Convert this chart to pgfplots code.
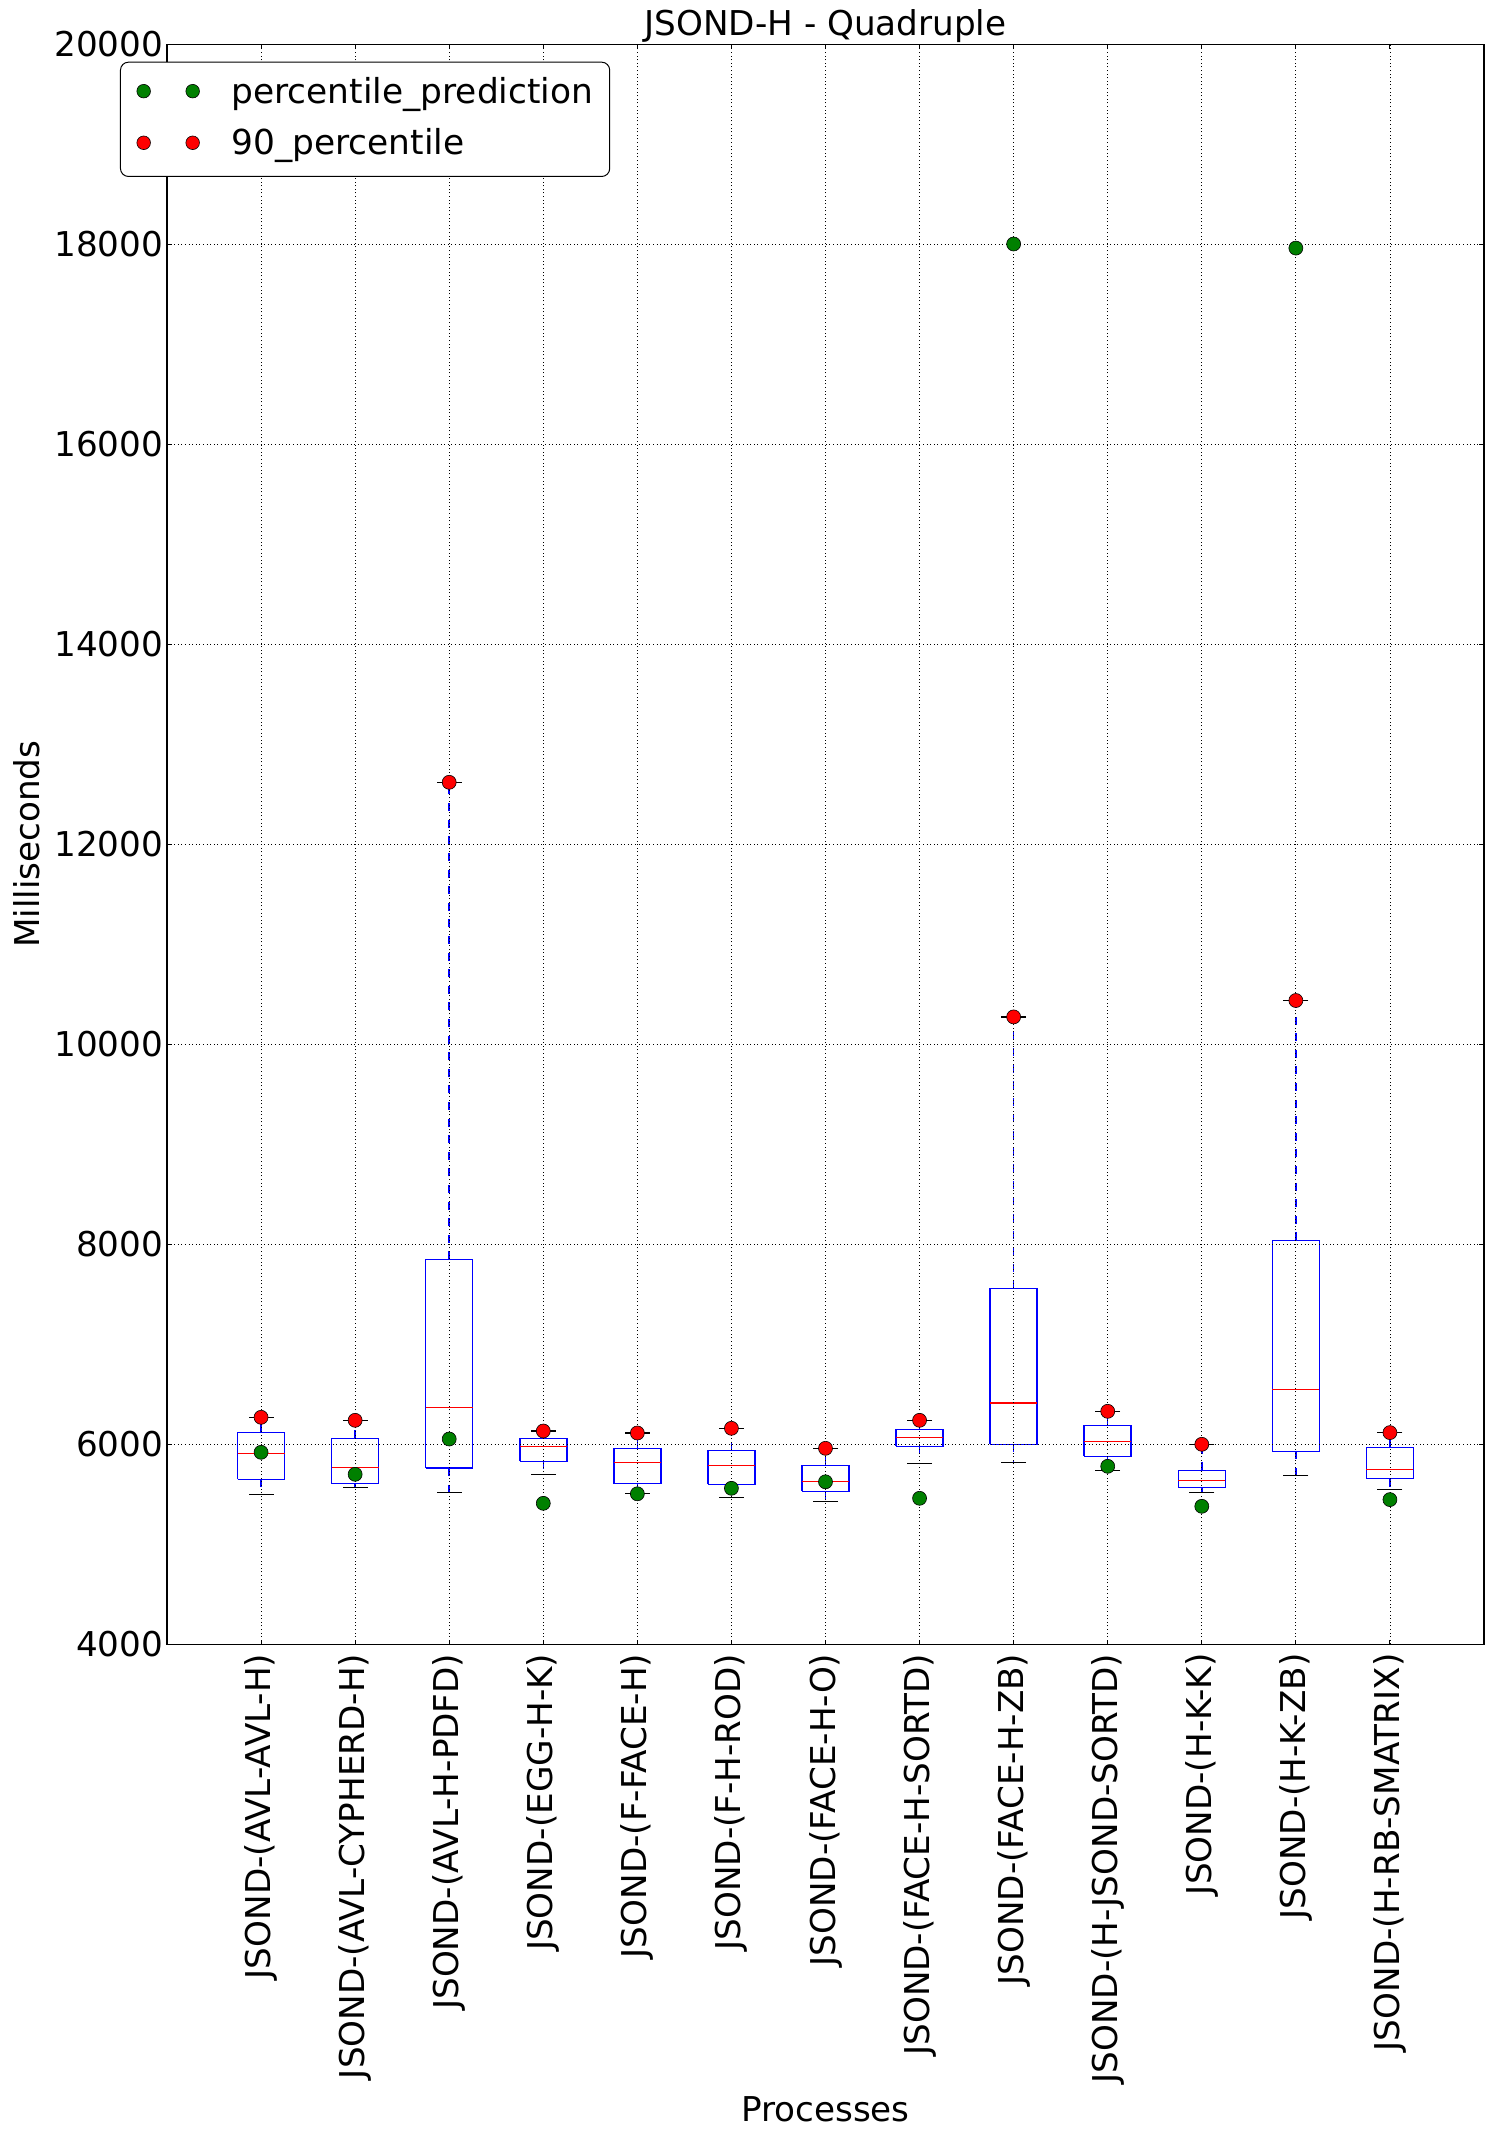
\documentclass[border=0pt]{standalone}
\usepackage{fontspec}
\setmainfont{DejaVu Sans}
\usepackage{pgfplots}
\pgfplotsset{compat=1.18}
\definecolor{mplgreen}{HTML}{008000}
\definecolor{mplblue}{HTML}{0000FF}
\definecolor{mplred}{HTML}{FF0000}
\pgfplotsset{legend image code/.code={\draw[#1,mark size=3.4pt] plot coordinates {(0pt,6pt) (24.5pt,6pt)};}}

\begin{document}
\fontsize{17.1}{20.5}\selectfont
\begin{tikzpicture}
\begin{axis}[
  scale only axis,
  width=658.5pt, height=800pt,
  xmin=0, xmax=14, ymin=4000, ymax=20000,
  xtick={1,2,3,4,5,6,7,8,9,10,11,12,13},
  xticklabels={JSOND-(AVL-AVL-H),JSOND-(AVL-CYPHERD-H),JSOND-(AVL-H-PDFD),JSOND-(EGG-H-K),JSOND-(F-FACE-H),JSOND-(F-H-ROD),JSOND-(FACE-H-O),JSOND-(FACE-H-SORTD),JSOND-(FACE-H-ZB),JSOND-(H-JSOND-SORTD),JSOND-(H-K-K),JSOND-(H-K-ZB),JSOND-(H-RB-SMATRIX)},
  ytick={4000,6000,8000,10000,12000,14000,16000,18000,20000},
  scaled y ticks=false,
  /pgf/number format/1000 sep={},
  /pgf/number format/assume math mode=true,
  tick align=inside,
  major tick length=2.3pt,
  minor tick num=0,
  tick style={black, line width=0.5pt},
  axis line style={black, line width=0.6pt},
  grid=major,
  major grid style={black, line width=0.4pt, dash pattern=on 0.5pt off 1.3pt},
  axis on top,
  unbounded coords=jump,
  xticklabel style={yshift=-4.5pt, rotate=90, anchor=east, inner sep=0pt},
  yticklabel style={inner sep=0pt, xshift=-1.7pt},
  title={JSOND-H - Quadruple},
  every axis title/.style={at={(axis description cs:0.5,1)}, anchor=base, yshift=4.15pt, inner sep=0pt},
  xlabel={Processes},
  ylabel={Milliseconds},
  every axis x label/.style={at={(axis description cs:0.5,-0.2981)}, anchor=base, inner sep=0pt},
  every axis y label/.style={at={(axis description cs:-0.0964,0.5)}, rotate=90, anchor=south, inner sep=0pt},
  legend cell align=left,
  legend style={at={(axis description cs:-0.0357,0.98913)}, anchor=north west,
    draw=black, line width=0.5pt, fill=white, rounded corners=4pt,
    font=\fontsize{17.2}{20.6}\selectfont,
    inner xsep=8.2pt, inner ysep=7pt, row sep=8.45pt, column sep=16pt,
    cells={anchor=base west},
    nodes={inner sep=0pt, anchor=base west, text height=13.5pt, text depth=3.85pt}},
]
% whiskers (quartile to whisker end)
\addplot[forget plot, mplblue, line width=0.75pt, dash pattern=on 4pt off 4.3pt] coordinates {
(1,5650) (1,5500) (1,nan) (1,6120) (1,6270) (1,nan)
(2,5606) (2,5570) (2,nan) (2,6060) (2,6240) (2,nan)
(3,5763) (3,5520) (3,nan) (3,7850) (3,12620) (3,nan)
(4,5830) (4,5700) (4,nan) (4,6060) (4,6133) (4,nan)
(5,5606) (5,5510) (5,nan) (5,5960) (5,6113) (5,nan)
(6,5600) (6,5470) (6,nan) (6,5940) (6,6160) (6,nan)
(7,5530) (7,5430) (7,nan) (7,5790) (7,5960) (7,nan)
(8,5980) (8,5810) (8,nan) (8,6150) (8,6240) (8,nan)
(9,6000) (9,5820) (9,nan) (9,7560) (9,10274) (9,nan)
(10,5880) (10,5740) (10,nan) (10,6187) (10,6330) (10,nan)
(11,5570) (11,5520) (11,nan) (11,5740) (11,6000) (11,nan)
(12,5930) (12,5690) (12,nan) (12,8040) (12,10438) (12,nan)
(13,5657) (13,5547) (13,nan) (13,5967) (13,6117)};
% boxes (lower quartile to upper quartile, width 0.5)
\addplot[forget plot, mplblue, line width=0.75pt, solid] coordinates {
(0.75,5650) (1.25,5650) (1.25,6120) (0.75,6120) (0.75,5650) (1,nan)
(1.75,5606) (2.25,5606) (2.25,6060) (1.75,6060) (1.75,5606) (2,nan)
(2.75,5763) (3.25,5763) (3.25,7850) (2.75,7850) (2.75,5763) (3,nan)
(3.75,5830) (4.25,5830) (4.25,6060) (3.75,6060) (3.75,5830) (4,nan)
(4.75,5606) (5.25,5606) (5.25,5960) (4.75,5960) (4.75,5606) (5,nan)
(5.75,5600) (6.25,5600) (6.25,5940) (5.75,5940) (5.75,5600) (6,nan)
(6.75,5530) (7.25,5530) (7.25,5790) (6.75,5790) (6.75,5530) (7,nan)
(7.75,5980) (8.25,5980) (8.25,6150) (7.75,6150) (7.75,5980) (8,nan)
(8.75,6000) (9.25,6000) (9.25,7560) (8.75,7560) (8.75,6000) (9,nan)
(9.75,5880) (10.25,5880) (10.25,6187) (9.75,6187) (9.75,5880) (10,nan)
(10.75,5570) (11.25,5570) (11.25,5740) (10.75,5740) (10.75,5570) (11,nan)
(11.75,5930) (12.25,5930) (12.25,8040) (11.75,8040) (11.75,5930) (12,nan)
(12.75,5657) (13.25,5657) (13.25,5967) (12.75,5967) (12.75,5657)};
% medians
\addplot[forget plot, mplred, line width=0.65pt, solid] coordinates {
(0.75,5910) (1.25,5910) (1,nan)
(1.75,5770) (2.25,5770) (2,nan)
(2.75,6370) (3.25,6370) (3,nan)
(3.75,5980) (4.25,5980) (4,nan)
(4.75,5820) (5.25,5820) (5,nan)
(5.75,5790) (6.25,5790) (6,nan)
(6.75,5630) (7.25,5630) (7,nan)
(7.75,6070) (8.25,6070) (8,nan)
(8.75,6413) (9.25,6413) (9,nan)
(9.75,6030) (10.25,6030) (10,nan)
(10.75,5640) (11.25,5640) (11,nan)
(11.75,6550) (12.25,6550) (12,nan)
(12.75,5750) (13.25,5750)};
% whisker caps
\addplot[forget plot, only marks, mark=-, mark size=6.25pt, mark options={draw=black, line width=0.7pt, solid}] coordinates {
(1,5500) (2,5570) (3,5520) (4,5700) (5,5510) (6,5470) (7,5430) (8,5810) (9,5820) (10,5740) (11,5520) (12,5690) (13,5547)
(1,6270) (2,6240) (3,12620) (4,6133) (5,6113) (6,6160) (7,5960) (8,6240) (9,10274) (10,6330) (11,6000) (12,10438) (13,6117)};

\addplot[only marks, mark=*, mark size=3.5pt, mark options={fill=mplgreen, draw=black, line width=0.3pt, solid}] coordinates {
(1,5920) (2,5700) (3,6053) (4,5410) (5,5505) (6,5560) (7,5625) (8,5460) (9,18003) (10,5780) (11,5380) (12,17962) (13,5447)};
\addlegendentry{percentile\_prediction}
\addplot[only marks, mark=*, mark size=3.5pt, mark options={fill=mplred, draw=black, line width=0.3pt, solid}] coordinates {
(1,6270) (2,6240) (3,12620) (4,6133) (5,6113) (6,6160) (7,5960) (8,6240) (9,10274) (10,6330) (11,6000) (12,10438) (13,6117)};
\addlegendentry{90\_percentile}
\end{axis}
\pgfresetboundingbox
\path[use as bounding box] ([xshift=-83.5pt,yshift=-246.35pt]current axis.south west) rectangle ([xshift=5pt,yshift=22.15pt]current axis.north east);
\end{tikzpicture}
\end{document}
